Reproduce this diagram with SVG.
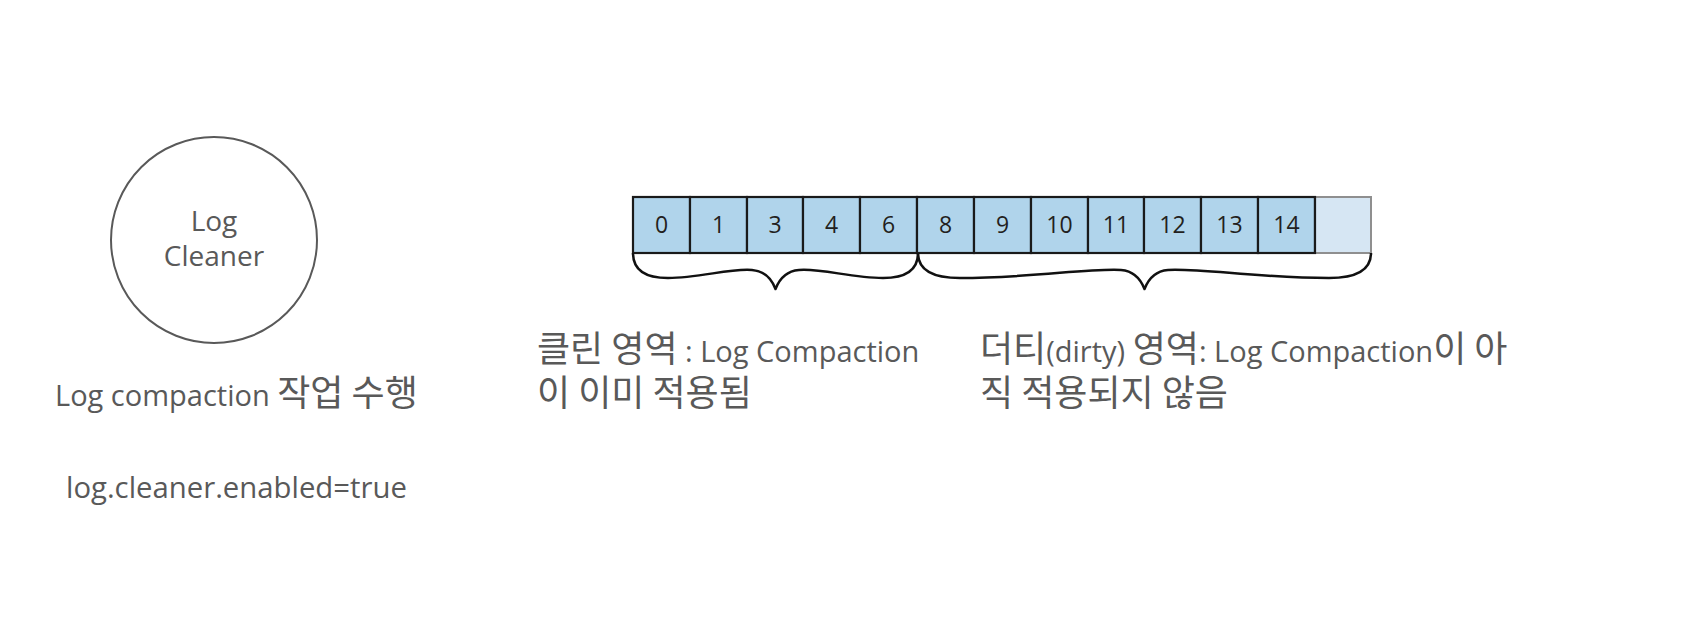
<svg xmlns="http://www.w3.org/2000/svg" width="1698" height="640" viewBox="0 0 1698 640">
<style>
.lat{font-family:"Open Sans","Noto Sans",sans-serif;fill:#595959}
.kr{font-family:"Noto Sans CJK KR","Noto Sans",sans-serif;fill:#595959}
.cell{fill:#b0d4eb;stroke:#1a1a1a;stroke-width:2.2}
.num{font-family:"Open Sans","Noto Sans",sans-serif;font-size:23px;fill:#231f20;text-anchor:middle}
.brace{fill:none;stroke:#111;stroke-width:2.5;stroke-linejoin:round}
</style>
<rect width="1698" height="640" fill="#fff"/>
<g id="log-cleaner">
<circle cx="214" cy="240" r="103" fill="none" stroke="#595959" stroke-width="2"/>
<text class="lat" font-size="28" text-anchor="middle"><tspan x="214" y="231">Log</tspan><tspan x="214" y="266">Cleaner</tspan></text>
</g>
<g id="cleaner-desc">
<text class="lat" x="55" y="406" font-size="29">Log compaction <tspan class="kr" font-size="36">작업 수행</tspan></text>
<text class="lat" x="66" y="498" font-size="29.3">log.cleaner.enabled=true</text>
</g>
<g id="log-segments">
<rect class="cell" x="633" y="197" width="57" height="56"/>
<rect class="cell" x="690" y="197" width="57" height="56"/>
<rect class="cell" x="747" y="197" width="56" height="56"/>
<rect class="cell" x="803" y="197" width="57" height="56"/>
<rect class="cell" x="860" y="197" width="57" height="56"/>
<rect class="cell" x="917" y="197" width="57" height="56"/>
<rect class="cell" x="974" y="197" width="57" height="56"/>
<rect class="cell" x="1031" y="197" width="57" height="56"/>
<rect class="cell" x="1088" y="197" width="56" height="56"/>
<rect class="cell" x="1144" y="197" width="57" height="56"/>
<rect class="cell" x="1201" y="197" width="57" height="56"/>
<rect class="cell" x="1258" y="197" width="57" height="56"/>
<path d="M1315,197 H1371 V253 H1315" fill="#d6e6f3" stroke="#8f8f8f" stroke-width="2"/>
<line x1="1315" y1="196" x2="1315" y2="254" stroke="#1a1a1a" stroke-width="2.2"/>
<text class="num" x="661.5" y="233">0</text>
<text class="num" x="718.5" y="233">1</text>
<text class="num" x="775" y="233">3</text>
<text class="num" x="831.5" y="233">4</text>
<text class="num" x="888.5" y="233">6</text>
<text class="num" x="945.5" y="233">8</text>
<text class="num" x="1002.5" y="233">9</text>
<text class="num" x="1059.5" y="233">10</text>
<text class="num" x="1116" y="233">11</text>
<text class="num" x="1172.5" y="233">12</text>
<text class="num" x="1229.5" y="233">13</text>
<text class="num" x="1286.5" y="233">14</text>
</g>
<g id="connectors">
<path class="brace" d="M633,253 C633,270 645,278 668,278 C700,278 730,268 752,270 C765,271 772,280 775.5,289 C779,280 786,271 799,270 C821,268 851,278 883,278 C906,278 918,270 918,253"/>
<path class="brace" d="M918,253 C918,270 932,278 960,278 C1030,278 1090,268 1121,270 C1134,271 1141,280 1144.5,289 C1148,280 1155,271 1168,270 C1199,268 1259,278 1329,278 C1357,278 1371,270 1371,253"/>
</g>
<g id="clean-label">
<text class="kr" x="537" y="362" font-size="36">클린 영역<tspan class="lat" font-size="29"> : Log Compaction</tspan></text>
<text class="kr" x="537" y="406" font-size="36">이 이미 적용됨</text>
</g>
<g id="dirty-label">
<text class="kr" x="980" y="362" font-size="36">더티<tspan class="lat" font-size="29">(dirty) </tspan>영역<tspan class="lat" font-size="29">: Log Compaction</tspan>이 아</text>
<text class="kr" x="980" y="406" font-size="36">직 적용되지 않음</text>
</g>
</svg>
